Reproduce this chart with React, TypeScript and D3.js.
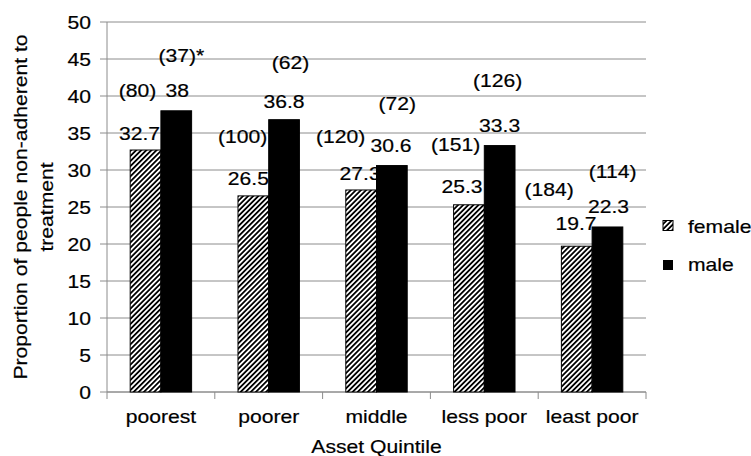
import React from "react";
import * as d3 from "d3";

const categories = ["poorest", "poorer", "middle", "less poor", "least poor"];
const series = ["female", "male"];
const femaleValues = [32.7, 26.5, 27.3, 25.3, 19.7];
const maleValues = [38, 36.8, 30.6, 33.3, 22.3];
const femaleN = [80, 100, 120, 151, 184];
const maleN = [37, 62, 72, 126, 114];
const maleNote = ["*", "", "", "", ""];
const yTicks = [0, 5, 10, 15, 20, 25, 30, 35, 40, 45, 50];

// label placement offsets (px, relative to bar centre / bar top)
const femaleValDx = [-6, -5, -1, -7, -0.7];
const femaleValDy = [-10, -11, -10, -11.5, -16];
const maleValDx = [1, 0, -0.8, 0, 1];
const maleValDy = [-14, -11.4, -14, -14, -14];
const femaleNDx = [-8, -10.8, -20.6, -13.4, -27.7];
const femaleNDy = [-53.3, -52.6, -47, -53.3, -50];
const maleNDx = [5.1, 6.5, 5.4, -2.1, 5.1];
const maleNDy = [-49, -51, -55.6, -59, -49];

const W = 751;
const H = 456;
const M = { left: 107, right: 646, top: 22, bottom: 392 };
const FONT = "'Liberation Sans', Arial, Helvetica, sans-serif";
const FS = 18.7;
const SX = 1.13;
const GRID = "#8c8c8c";

function T({ x, y, anchor = "middle", rotate = 0, children }: any) {
  return (
    <text
      transform={`translate(${x},${y}) rotate(${rotate}) scale(${SX},1)`}
      textAnchor={anchor}
      fontFamily={FONT}
      fontSize={FS}
      fill="#000"
      stroke="#000"
      strokeWidth={0.2}
    >
      {children}
    </text>
  );
}

export default function App() {
  const x = d3.scaleBand<string>().domain(categories).range([M.left, M.right]).paddingInner(0).paddingOuter(0);
  const xs = d3.scaleBand<string>().domain(series).range([0, x.bandwidth()]).paddingInner(0).paddingOuter(0.755);
  const y = d3.scaleLinear().domain([0, 50]).range([M.bottom, M.top]);
  const bw = xs.bandwidth();

  const bars = categories.map((c, i) => {
    const fx = (x(c) as number) + (xs("female") as number);
    const mx = (x(c) as number) + (xs("male") as number);
    return { c, i, fx, mx, fTop: y(femaleValues[i]), mTop: y(maleValues[i]) };
  });

  const boundaries = categories.map((c) => x(c) as number).concat([M.right]);

  return (
    <svg width={W} height={H} style={{ position: "absolute", left: 0, top: 0, background: "#fff" }}>
      <defs>
        <pattern id="hatch" patternUnits="userSpaceOnUse" width={3.6} height={3.6} patternTransform="rotate(45)">
          <rect width={3.6} height={3.6} fill="#fff" />
          <line x1={0.9} y1={-1} x2={0.9} y2={5} stroke="#000" strokeWidth={1.8} />
        </pattern>
      </defs>
      <rect width={W} height={H} fill="#fff" />

      {/* gridlines & y ticks */}
      {yTicks.map((t) => (
        <g key={t}>
          <line x1={M.left - 7} x2={M.right} y1={y(t)} y2={y(t)} stroke={GRID} strokeWidth={1} />
          <T x={91} y={y(t) + 6.7} anchor="end">{t}</T>
        </g>
      ))}
      {/* axes */}
      <line x1={M.left} x2={M.left} y1={M.top} y2={M.bottom} stroke={GRID} strokeWidth={1} />
      <line x1={M.left} x2={M.right} y1={M.bottom} y2={M.bottom} stroke={GRID} strokeWidth={1} />
      {boundaries.map((b, i) => (
        <line key={i} x1={b} x2={b} y1={M.bottom} y2={M.bottom + 7} stroke={GRID} strokeWidth={1} />
      ))}

      {/* labels */}
      {bars.map((b) => (
        <g key={"l" + b.c}>
          <T x={b.fx + bw / 2 + femaleValDx[b.i]} y={b.fTop + femaleValDy[b.i]}>{String(femaleValues[b.i])}</T>
          <T x={b.mx + bw / 2 + maleValDx[b.i]} y={b.mTop + maleValDy[b.i]}>{String(maleValues[b.i])}</T>
          <T x={b.fx + bw / 2 + femaleNDx[b.i]} y={b.fTop + femaleNDy[b.i]}>{`(${femaleN[b.i]})`}</T>
          <T x={b.mx + bw / 2 + maleNDx[b.i]} y={b.mTop + maleNDy[b.i]}>{`(${maleN[b.i]})${maleNote[b.i]}`}</T>
        </g>
      ))}

      {/* bars */}
      {bars.map((b) => (
        <g key={"b" + b.c}>
          <rect x={b.fx} y={b.fTop} width={bw} height={M.bottom - b.fTop} fill="url(#hatch)" stroke="#000" strokeWidth={1} />
          <rect x={b.mx} y={b.mTop} width={bw} height={M.bottom - b.mTop} fill="#000" stroke="#000" strokeWidth={1} />
        </g>
      ))}

      {/* category labels */}
      {categories.map((c) => (
        <T key={c} x={(x(c) as number) + x.bandwidth() / 2} y={423}>{c}</T>
      ))}
      <T x={(M.left + M.right) / 2} y={453}>Asset Quintile</T>

      {/* y title */}
      <g>
        <T x={26.5} y={(M.top + M.bottom) / 2} rotate={-90}>Proportion of people non-adherent to</T>
        <T x={53} y={(M.top + M.bottom) / 2} rotate={-90}>treatment</T>
      </g>

      {/* legend */}
      <rect x={663} y={220.5} width={10} height={10} fill="url(#hatch)" stroke="#000" strokeWidth={1} />
      <T x={688} y={232.7} anchor="start">female</T>
      <rect x={663} y={260} width={10} height={10} fill="#000" />
      <T x={688} y={271} anchor="start">male</T>
    </svg>
  );
}
